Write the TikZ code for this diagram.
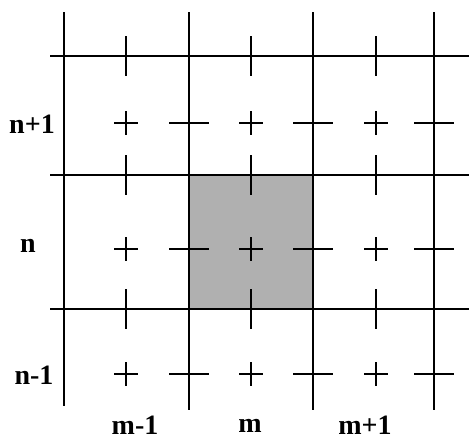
\documentclass[tikz,border=0pt]{standalone}
\usepackage{fontspec}
\setmainfont{Liberation Serif}
\usepackage{tikz}
\usetikzlibrary{positioning}
\definecolor{cellgray}{HTML}{B0B0B0}

\begin{document}
\begin{tikzpicture}[x=1pt, y=-1pt,
    gridline/.style={draw=black, line width=1.2pt},
    tick/.style={draw=black, line width=1.2pt},
    edgeline/.style={draw=black, line width=2.6pt, line cap=rect},
    lab/.style={font=\bfseries\fontsize{28}{33}\selectfont, inner sep=0pt},
  ]
  \useasboundingbox (0,0) rectangle (469,439);
  % shaded cell (m,n)
  \fill[cellgray] (189,175) rectangle (313,309);
  % grid
  \draw[gridline] (64,12) -- (64,406);
  \foreach \x in {189,313,434}
    \draw[gridline] (\x,12) -- (\x,410);
  \foreach \y in {56,175,309}
    \draw[gridline] (50,\y) -- (469,\y);
  % ticks on the horizontal lines
  \foreach \x in {126,251,376}
    \foreach \y in {56,175,309}
      \draw[tick] (\x,\y-20) -- (\x,\y+20);
  % ticks on the vertical lines
  \foreach \x in {189,313,434}
    \foreach \y in {123,249,374}
      \draw[tick] (\x-20,\y) -- (\x+20,\y);
  % cell centres
  \foreach \x in {126,251,376}
    \foreach \y in {123,249,374}
      \draw[tick] (\x-12,\y) -- (\x+12,\y) (\x,\y-12) -- (\x,\y+12);
  % heavy border of the cell
  \draw[edgeline] (189,309) -- (313,309) -- (313,175);
  % labels
  \node[lab] (np) at (32,124) {n+1};
  \node[lab] (n) at (28,246) {n};
  \node[lab] (nm) at (34,375) {n-1};
  \node[lab] (mm) at (135,425) {m-1};
  \node[lab] (m) at (250,426) {m};
  \node[lab] (mp) at (365,425) {m+1};
\end{tikzpicture}
\end{document}
